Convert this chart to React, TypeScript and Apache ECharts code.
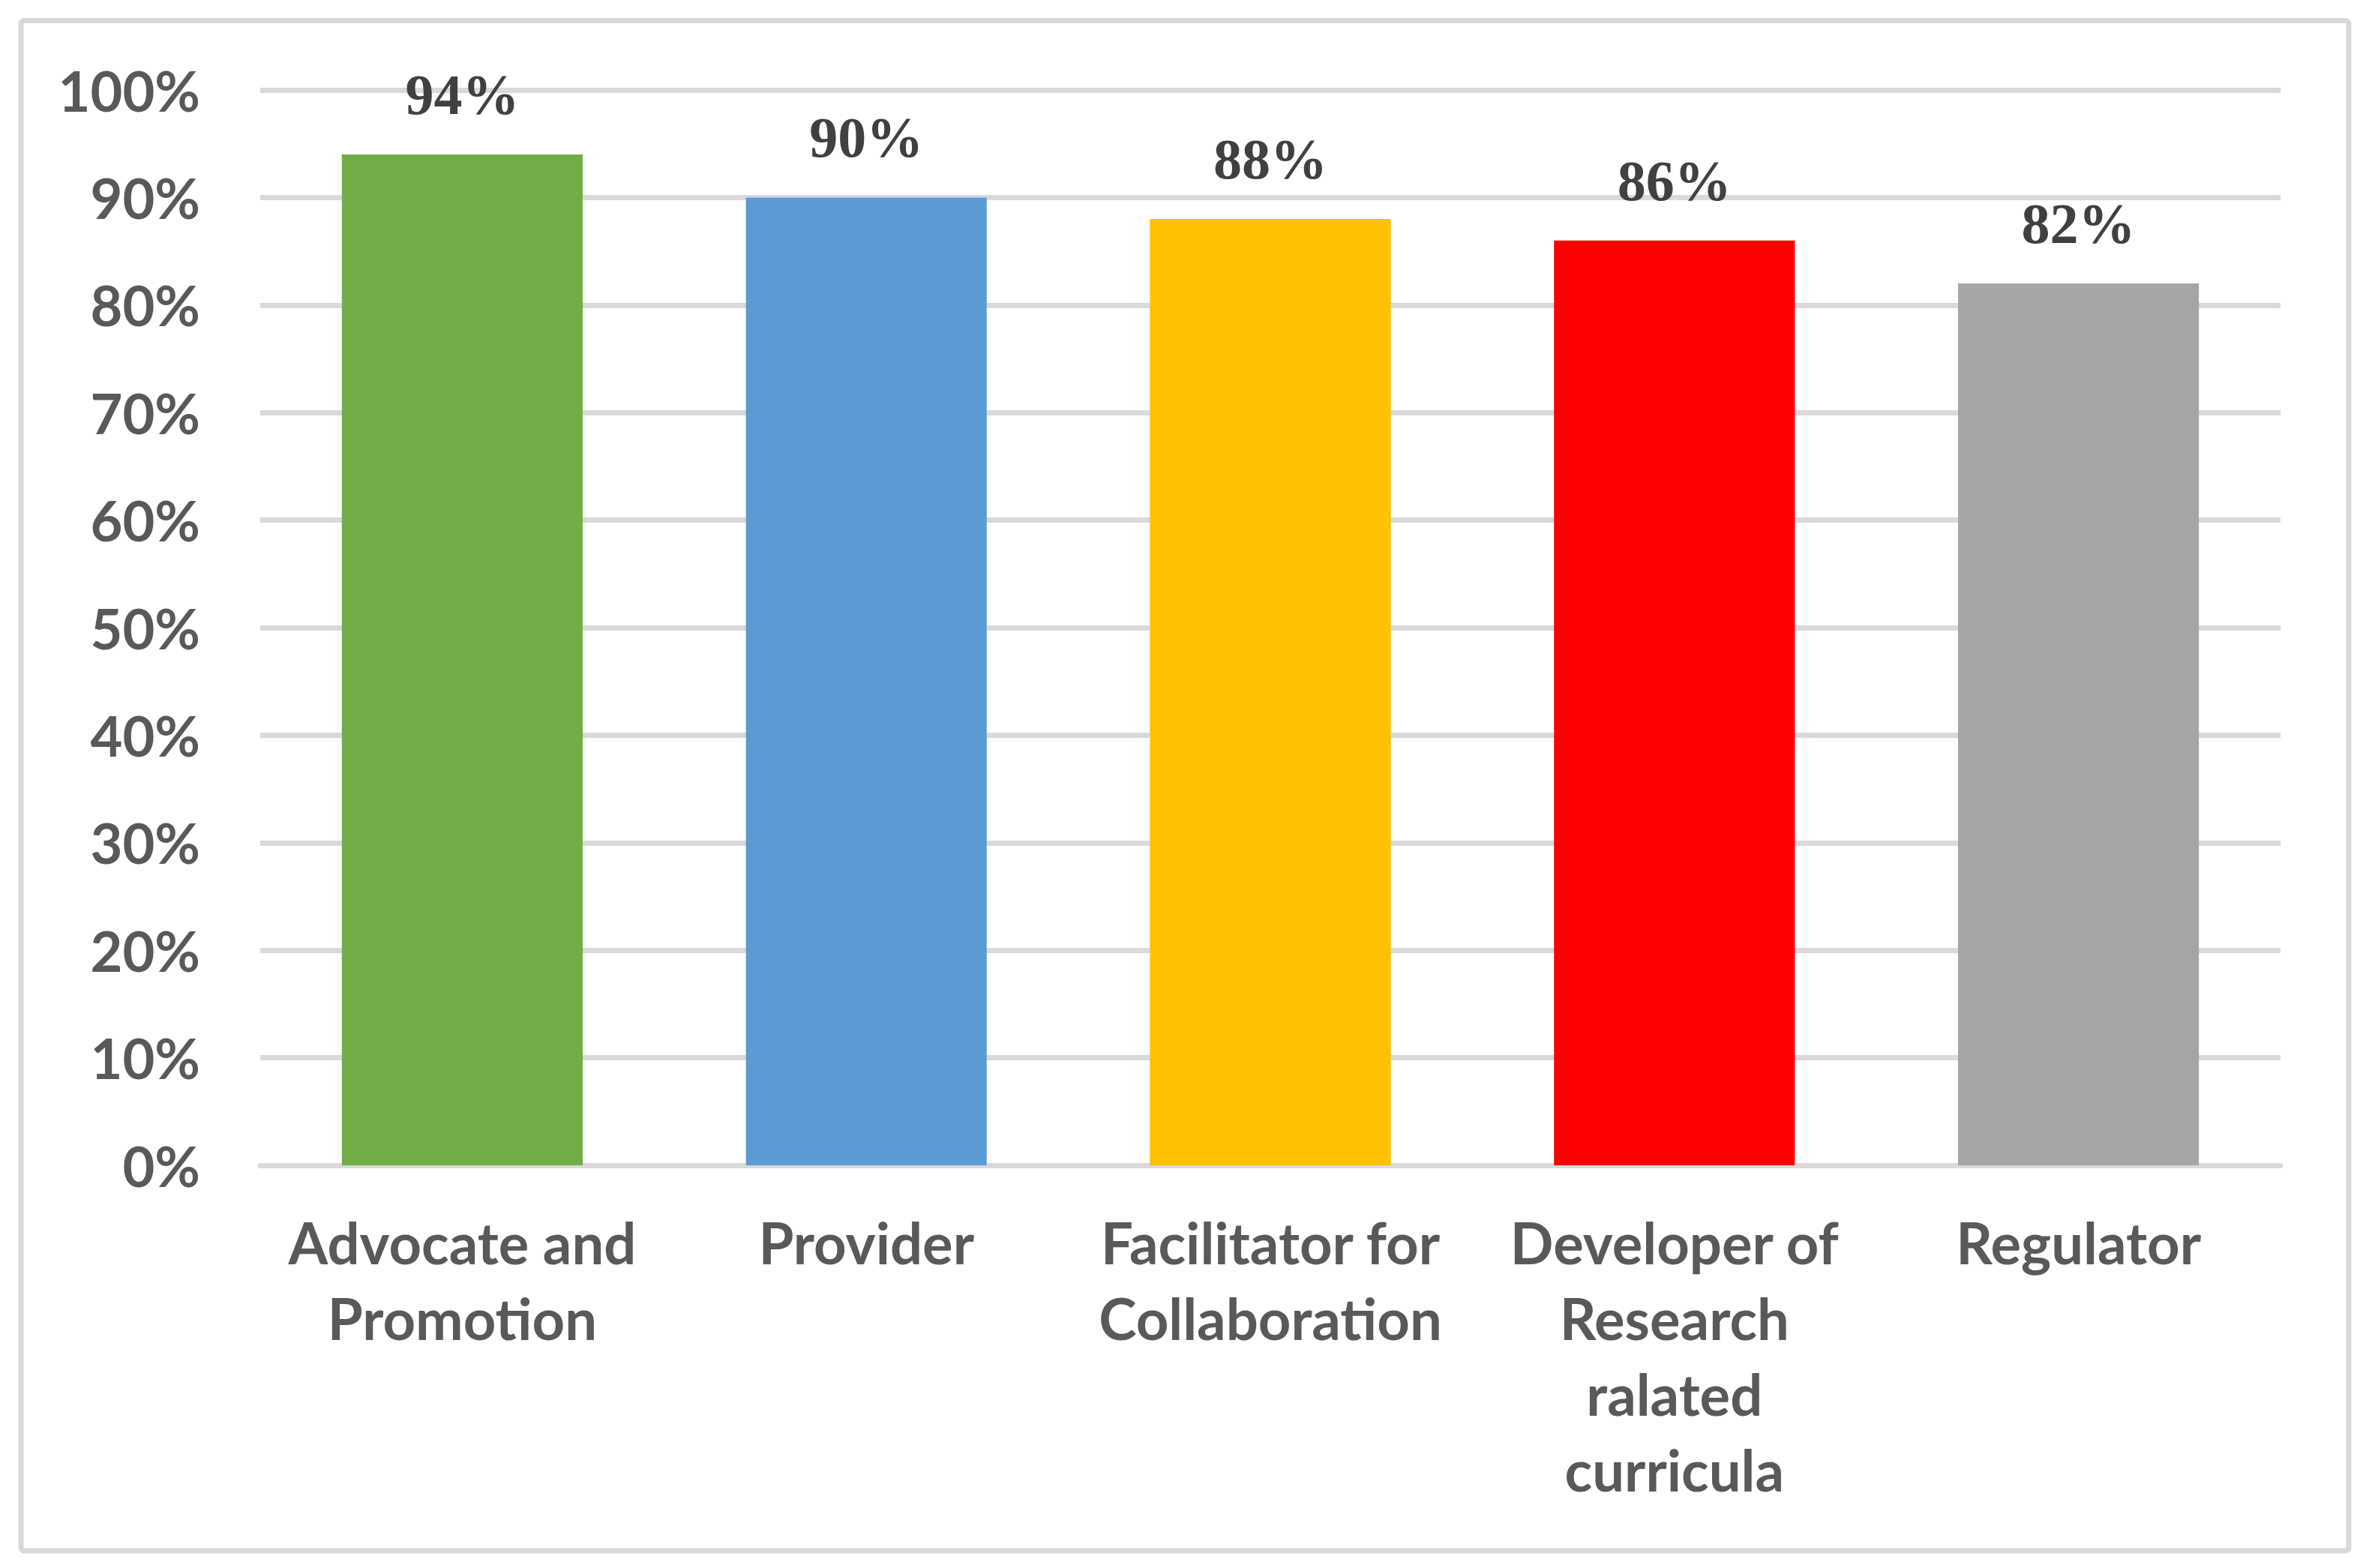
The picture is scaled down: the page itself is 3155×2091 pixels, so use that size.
import React, { useEffect, useRef } from "react";
import * as echarts from "echarts";

const categories = [
  "Advocate and\nPromotion",
  "Provider",
  "Facilitator for\nCollaboration",
  "Developer of\nResearch\nralated\ncurricula",
  "Regulator",
];
const values = [94, 90, 88, 86, 82];
const barColors = ["#70ad47", "#5b9bd5", "#ffc000", "#ff0000", "#a5a5a5"];
const yMin = 0;
const yMax = 100;
const yStep = 10;

export default function App() {
  const ref = useRef<HTMLDivElement>(null);
  useEffect(() => {
    if (!ref.current) return;
    const chart = echarts.init(ref.current, undefined, { renderer: "svg" });
    chart.setOption({
      animation: false,
      backgroundColor: "#ffffff",
      grid: { left: 347, right: 114, top: 120, bottom: 537, containLabel: false },
      graphic: [
        {
          type: "rect",
          shape: { x: 28, y: 27.5, width: 3104, height: 2040.5, r: 4 },
          style: { fill: "none", stroke: "#d9d9d9", lineWidth: 7 },
          silent: true,
        },
      ],
      xAxis: {
        type: "category",
        data: categories,
        axisTick: { show: false },
        axisLine: { show: true, lineStyle: { color: "#d9d9d9", width: 7 } },
        axisLabel: {
          interval: 0,
          margin: 52,
          color: "#595959",
          fontFamily: "Lato",
          fontWeight: "bold",
          fontSize: 76,
          lineHeight: 101,
          align: "center",
        },
      },
      yAxis: {
        type: "value",
        min: yMin,
        max: yMax,
        interval: yStep,
        axisLine: { show: false },
        axisTick: { show: false },
        splitLine: { show: true, lineStyle: { color: "#d9d9d9", width: 7 } },
        axisLabel: {
          margin: 80,
          color: "#595959",
          fontFamily: "Lato",
          fontWeight: "bold",
          fontSize: 74,
          formatter: "{value}%",
        },
      },
      series: [
        {
          type: "bar",
          barWidth: "59.6%",
          data: values.map((v, i) => ({ value: v, itemStyle: { color: barColors[i] } })),
          label: {
            show: true,
            position: "top",
            distance: 40,
            formatter: "{c}%",
            color: "#404040",
            fontFamily: "Liberation Serif",
            fontWeight: "bold",
            fontSize: 76,
            lineHeight: 80,
          },
        },
      ],
    });
    return () => chart.dispose();
  }, []);
  return (
    <div
      ref={ref}
      style={{ position: "absolute", left: 0, top: 0, width: 3155, height: 2091, background: "#fff" }}
    />
  );
}
